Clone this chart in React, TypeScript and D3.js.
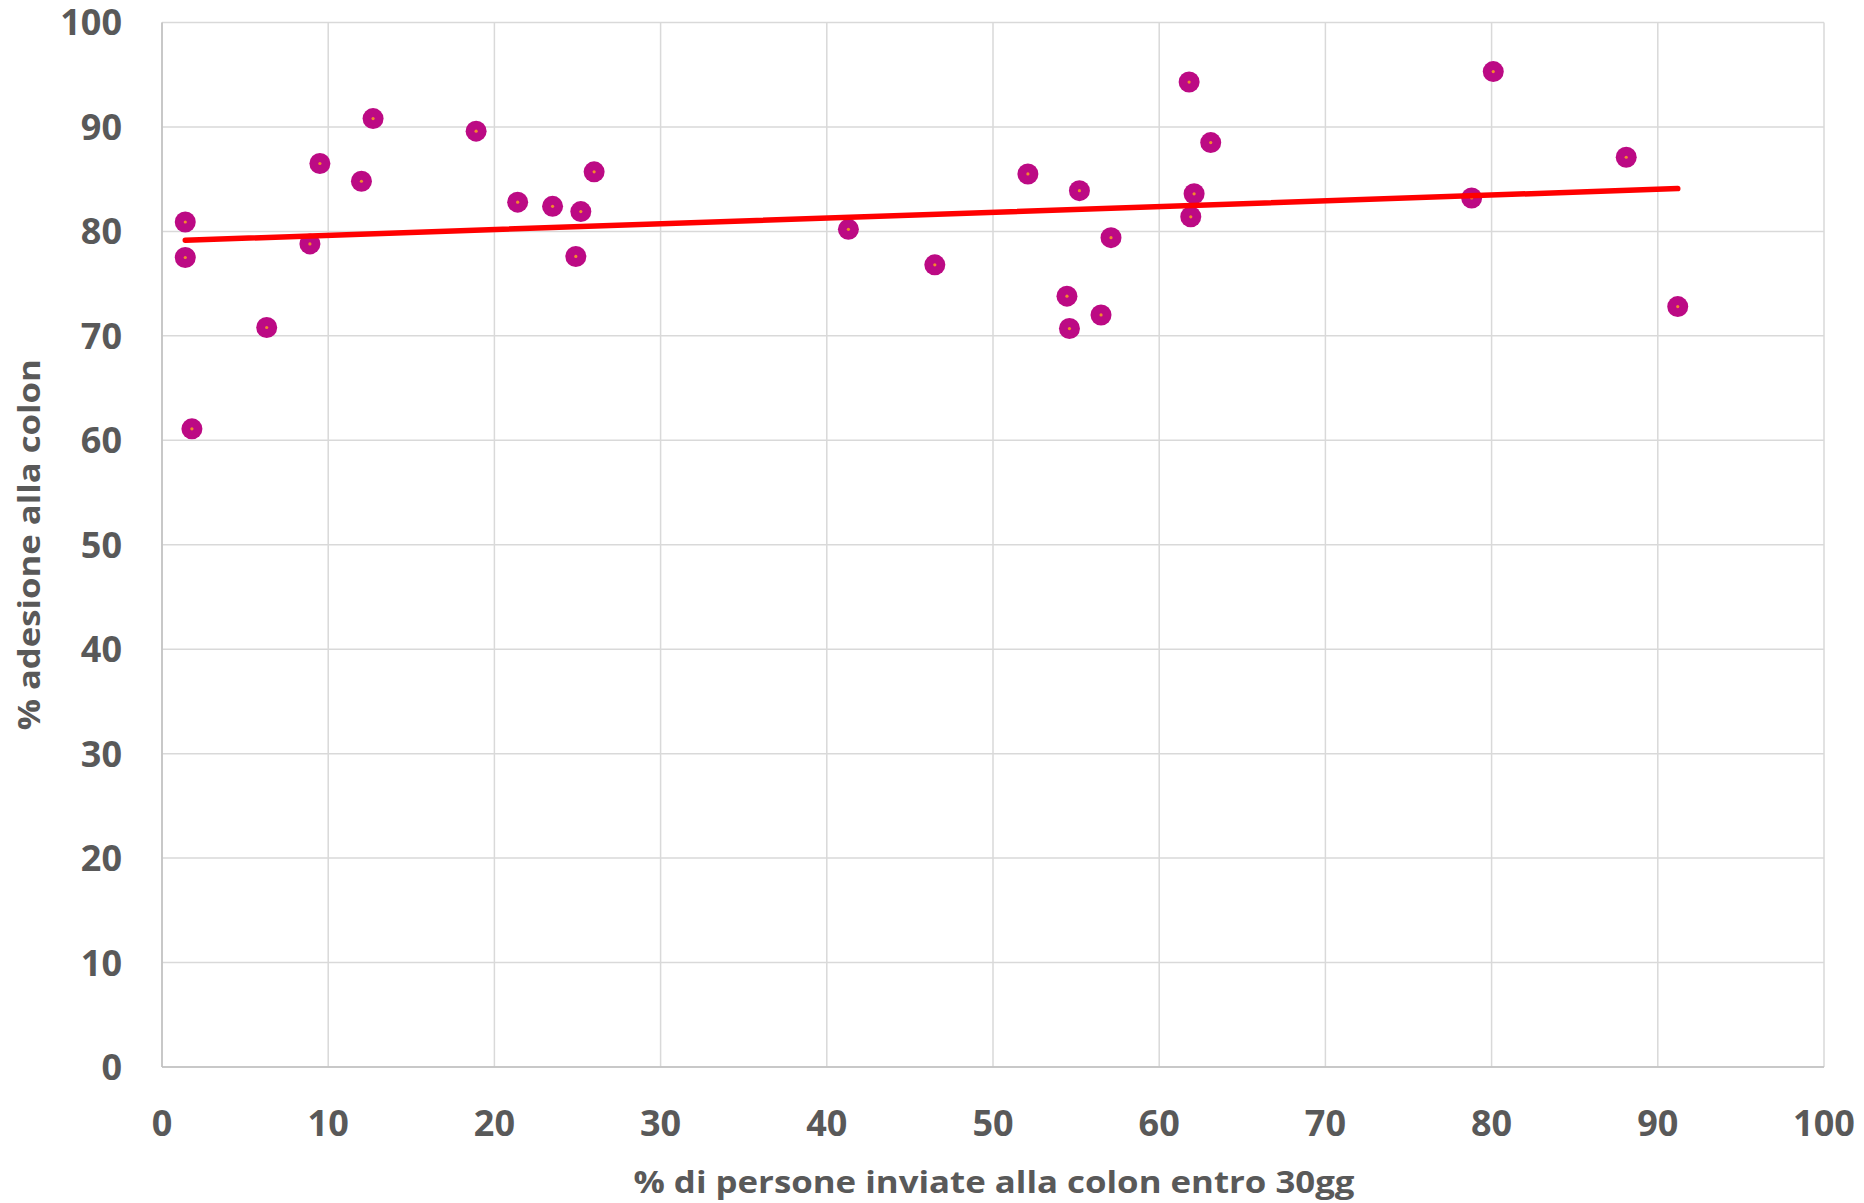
import React from "react";
import * as d3 from "d3";

const xValues = [1.4, 1.4, 1.8, 6.3, 8.9, 9.5, 12.0, 12.7, 18.9, 21.4, 23.5, 25.2, 24.9, 26.0, 41.3, 46.5, 52.1, 55.2, 54.45, 54.6, 56.5, 57.1, 61.8, 63.1, 62.1, 61.9, 78.8, 80.1, 88.1, 91.2];
const yValues = [80.9, 77.5, 61.1, 70.8, 78.8, 86.5, 84.8, 90.8, 89.6, 82.8, 82.4, 81.9, 77.6, 85.7, 80.2, 76.8, 85.5, 83.9, 73.8, 70.7, 72.0, 79.4, 94.3, 88.5, 83.6, 81.4, 83.2, 95.3, 87.1, 72.8];
const trendX = [1.4, 91.2];
const trendY = [79.15, 84.1];
const xTicks = [0, 10, 20, 30, 40, 50, 60, 70, 80, 90, 100];
const yTicks = [0, 10, 20, 30, 40, 50, 60, 70, 80, 90, 100];
const xTitle = "% di persone inviate alla colon entro 30gg";
const yTitle = "% adesione alla colon";

export default function App() {
  const W = 1864, H = 1203;
  const left = 162, right = 1824, top = 22.5, bottom = 1067;
  const x = d3.scaleLinear().domain([0, 100]).range([left, right]);
  const y = d3.scaleLinear().domain([0, 100]).range([bottom, top]);
  const font = "'Open Sans', sans-serif";
  const textColor = "#595959";
  const line = d3.line<number>().x((_, i) => x(trendX[i])).y((_, i) => y(trendY[i]));
  return (
    <svg width={W} height={H} style={{ position: "absolute", left: 0, top: 0, background: "#fff" }}>
      <rect width={W} height={H} fill="#fff" />
      {xTicks.map((t) => (
        <line key={"gx" + t} x1={x(t)} x2={x(t)} y1={top} y2={bottom} stroke="#D9D9D9" strokeWidth={1.5} />
      ))}
      {yTicks.map((t) => (
        <line key={"gy" + t} x1={left} x2={right} y1={y(t)} y2={y(t)} stroke="#D9D9D9" strokeWidth={1.5} />
      ))}
      <line x1={left} x2={left} y1={top} y2={bottom} stroke="#BFBFBF" strokeWidth={1.5} />
      <line x1={left} x2={right} y1={bottom} y2={bottom} stroke="#BFBFBF" strokeWidth={1.5} />
      {yTicks.map((t) => (
        <text key={"ty" + t} x={122} y={y(t)} dy="0.36em" textAnchor="end" fontFamily={font} fontWeight={700} fontSize={36} fill={textColor}>
          {t}
        </text>
      ))}
      {xTicks.map((t) => (
        <text key={"tx" + t} x={x(t)} y={1123} dy="0.36em" textAnchor="middle" fontFamily={font} fontWeight={700} fontSize={36} fill={textColor}>
          {t}
        </text>
      ))}
      <text x={(left + right) / 2 + 1} y={1193} textAnchor="middle" fontFamily={font} fontWeight={700} fontSize={31} fill={textColor} textLength={721} lengthAdjust="spacingAndGlyphs">
        {xTitle}
      </text>
      <text transform={`translate(40,${(top + bottom) / 2}) rotate(-90)`} textAnchor="middle" fontFamily={font} fontWeight={700} fontSize={31} fill={textColor} textLength={371} lengthAdjust="spacingAndGlyphs">
        {yTitle}
      </text>
      {xValues.map((v, i) => (
        <g key={"p" + i}>
          <circle cx={x(v)} cy={y(yValues[i])} r={10.5} fill="#BC0A84" />
          <circle cx={x(v)} cy={y(yValues[i])} r={1.6} fill="#F28A2E" />
        </g>
      ))}
      <path d={line(trendX) || ""} fill="none" stroke="#FF0000" strokeWidth={5.5} strokeLinecap="round" />
    </svg>
  );
}
